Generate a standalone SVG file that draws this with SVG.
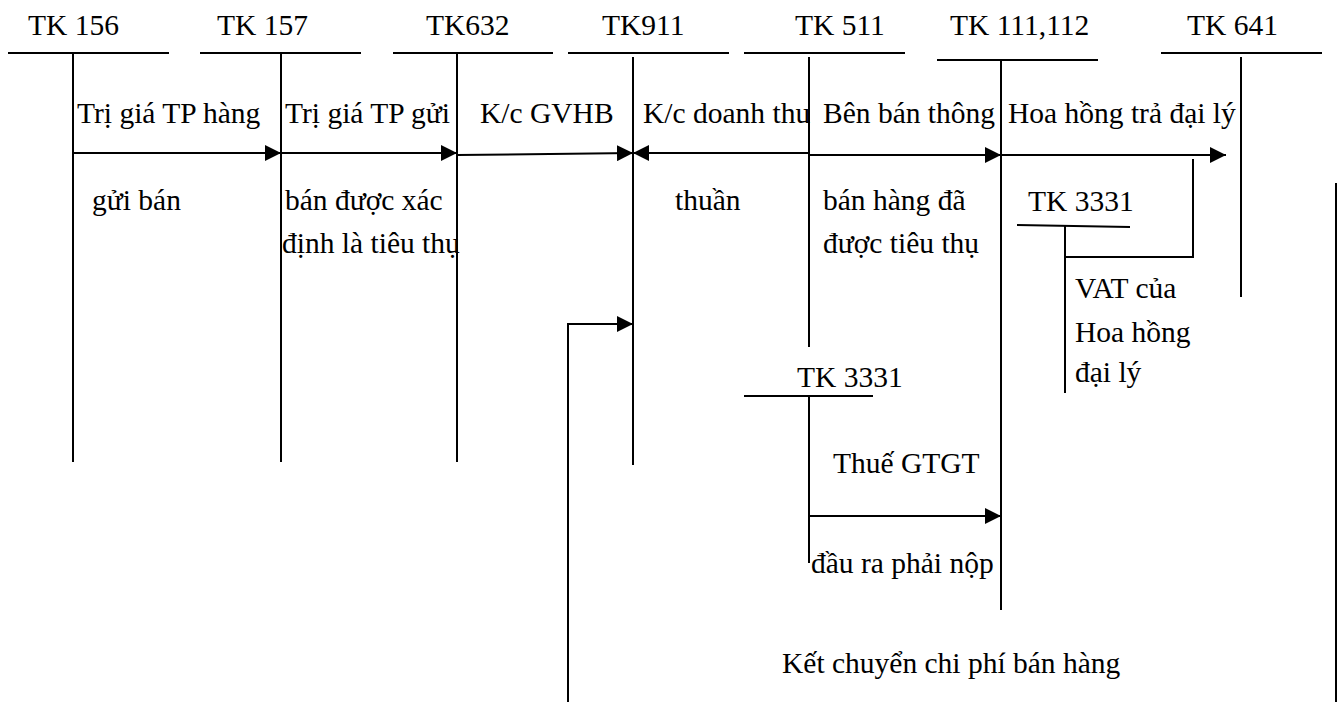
<svg xmlns="http://www.w3.org/2000/svg" width="1338" height="702" viewBox="0 0 1338 702" font-family="Liberation Serif, serif" font-size="29.5">
<style>
.ln { stroke: #000; stroke-width: 2; fill: none; }
.ar { stroke: #000; stroke-width: 2; fill: none; marker-end: url(#ah); }
</style>
<defs>
<marker id="ah" viewBox="0 0 16 16" markerWidth="16" markerHeight="16" refX="16" refY="8" orient="auto" markerUnits="userSpaceOnUse">
<path d="M0,0 L16,8 L0,16 z" fill="#000"/>
</marker>
</defs>
<rect width="1338" height="702" fill="#fff"/>
<g id="tk156">
<text x="28" y="35">TK 156</text>
<line class="ln" x1="8" y1="53" x2="169" y2="53"/>
<line class="ln" x1="73" y1="53" x2="73" y2="462"/>
</g>
<g id="tk157">
<text x="217" y="35">TK 157</text>
<line class="ln" x1="200" y1="53" x2="361" y2="53"/>
<line class="ln" x1="281" y1="53" x2="281" y2="462"/>
</g>
<g id="tk632">
<text x="426" y="35">TK632</text>
<line class="ln" x1="393" y1="53" x2="553" y2="53"/>
<line class="ln" x1="457" y1="53" x2="457" y2="462"/>
</g>
<g id="tk911">
<text x="602" y="35">TK911</text>
<line class="ln" x1="568" y1="53" x2="729" y2="53"/>
<line class="ln" x1="633" y1="57" x2="633" y2="465"/>
</g>
<g id="tk511">
<text x="795" y="35">TK 511</text>
<line class="ln" x1="744" y1="53" x2="905" y2="53"/>
<line class="ln" x1="809" y1="57" x2="809" y2="347"/>
</g>
<g id="tk111">
<text x="950" y="35">TK 111,112</text>
<line class="ln" x1="937" y1="60" x2="1098" y2="60"/>
<line class="ln" x1="1001" y1="60" x2="1001" y2="610"/>
</g>
<g id="tk641">
<text x="1187" y="35">TK 641</text>
<line class="ln" x1="1161" y1="53" x2="1322" y2="53"/>
<line class="ln" x1="1241" y1="57" x2="1241" y2="297"/>
</g>
<g id="tk3331a">
<text x="1028" y="211">TK 3331</text>
<line class="ln" x1="1017" y1="225" x2="1130" y2="227"/>
<line class="ln" x1="1065" y1="225" x2="1065" y2="393"/>
</g>
<g id="tk3331b">
<text x="797" y="387">TK 3331</text>
<line class="ln" x1="744" y1="396" x2="873" y2="396"/>
<line class="ln" x1="809" y1="396" x2="809" y2="563"/>
</g>
<g id="connectors">
<line class="ar" x1="73" y1="153" x2="281" y2="153"/>
<line class="ar" x1="281" y1="153" x2="457" y2="153"/>
<line class="ar" x1="457" y1="155" x2="633" y2="153"/>
<line class="ar" x1="809" y1="153" x2="633" y2="153"/>
<line class="ar" x1="809" y1="155" x2="1001" y2="155"/>
<line class="ar" x1="1001" y1="155" x2="1226" y2="155"/>
<polyline class="ln" points="1065,257 1193,257 1193,159"/>
<polyline class="ar" points="568,702 568,324 633,324"/>
<line class="ar" x1="809" y1="516" x2="1001" y2="516"/>
<line class="ln" x1="1336" y1="183" x2="1336" y2="702"/>
</g>
<g id="labels">
<text x="77" y="123">Trị giá TP hàng</text>
<text x="92" y="210">gửi bán</text>
<text x="285" y="123">Trị giá TP gửi</text>
<text x="285" y="210">bán được xác</text>
<text x="282" y="253">định là tiêu thụ</text>
<text x="480" y="123">K/c GVHB</text>
<text x="643" y="123">K/c doanh thu</text>
<text x="675" y="210">thuần</text>
<text x="823" y="123">Bên bán thông</text>
<text x="823" y="210">bán hàng đã</text>
<text x="823" y="253">được tiêu thụ</text>
<text x="1008" y="123">Hoa hồng trả đại lý</text>
<text x="1075" y="298">VAT của</text>
<text x="1075" y="342">Hoa hồng</text>
<text x="1075" y="382">đại lý</text>
<text x="833" y="473">Thuế GTGT</text>
<text x="811" y="573">đầu ra phải nộp</text>
<text x="782" y="673">Kết chuyển chi phí bán hàng</text>
</g>
</svg>
